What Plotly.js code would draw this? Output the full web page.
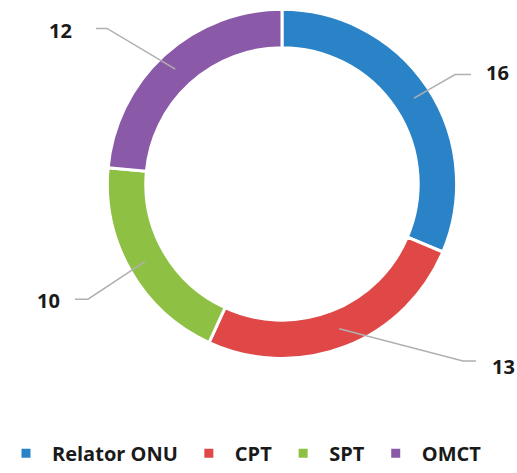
<!DOCTYPE html>
<html>
<head>
<meta charset="utf-8">
<script src="https://cdn.plot.ly/plotly-3.0.1.min.js"></script>
<style>html,body{margin:0;padding:0;background:#fff;}#chart{width:517px;height:473px;}</style>
</head>
<body>
<div id="chart"></div>
<script>
// ---- data ----
const categories = ["Relator ONU", "CPT", "SPT", "OMCT"];
const values = [16, 13, 10, 12];
const colors = ["#2b83c7", "#e04848", "#8dc043", "#8a5aa8"];

// ---- layout config (pixels) ----
const W = 517, H = 473;
const cx = 282, cy = 187.5, R = 178, hole = 0.78;
// label elbow / text positions (layout only)
const labelLayout = [
  {elbow: [455, 76], end: [471, 76], text: [497, 74]},
  {elbow: [463, 368], end: [476, 368], text: [503, 374]},
  {elbow: [88, 305], end: [75, 305], text: [48, 306]},
  {elbow: [107, 29], end: [96, 29], text: [60, 31]}
];

const px = x => x / W;
const py = y => 1 - y / H;

const total = values.reduce((a, b) => a + b, 0);
const shapes = [];
const annotations = [];
let cum = 0;
values.forEach((v, i) => {
  const mid = (cum + v / 2) / total * 2 * Math.PI;
  cum += v;
  const rm = R * (1 + hole) / 2;
  const ax = cx + rm * Math.sin(mid);
  const ay = cy - rm * Math.cos(mid);
  const L = labelLayout[i];
  shapes.push({
    type: "path", xref: "paper", yref: "paper",
    path: `M ${px(ax)} ${py(ay)} L ${px(L.elbow[0])} ${py(L.elbow[1])} L ${px(L.end[0])} ${py(L.end[1])}`,
    line: {color: "#b0b0b0", width: 1.5}, layer: "above"
  });
  annotations.push({
    xref: "paper", yref: "paper", x: px(L.text[0]), y: py(L.text[1]),
    text: String(v), showarrow: false, xanchor: "center", yanchor: "middle",
    font: {family: "'Open Sans', sans-serif", size: 20, color: "#1a1a1a", weight: "bold"}
  });
});

const trace = {
  type: "pie",
  labels: categories,
  values: values,
  hole: hole,
  sort: false,
  direction: "clockwise",
  rotation: 0,
  textinfo: "none",
  hoverinfo: "label+value",
  marker: {colors: colors, line: {color: "#ffffff", width: 3}},
  domain: {x: [px(cx - R), px(cx + R)], y: [py(cy + R), py(cy - R)]}
};

const layout = {
  width: W, height: H,
  margin: {l: 0, r: 0, t: 0, b: 0},
  paper_bgcolor: "#ffffff",
  showlegend: true,
  legend: {
    orientation: "h", x: 0, y: py(462), xanchor: "left", yanchor: "middle",
    font: {family: "'Open Sans', sans-serif", size: 20, color: "#1a1a1a", weight: "bold"},
    itemwidth: 42, tracegroupgap: 0
  },
  shapes: shapes,
  annotations: annotations
};

Plotly.newPlot("chart", [trace], layout, {displayModeBar: false, staticPlot: true});
</script>
</body>
</html>
